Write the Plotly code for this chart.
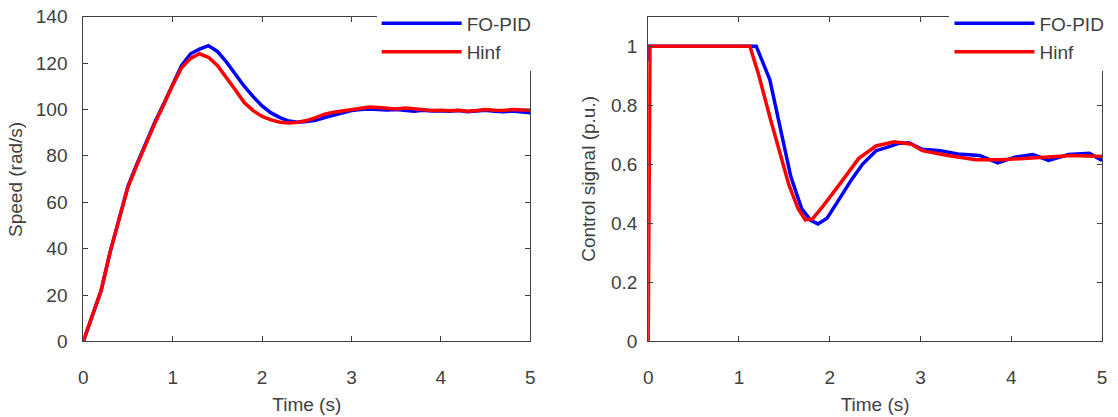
import plotly.graph_objects as go

# ---------------- data: speed (left) ----------------
t_speed = [round(0.1 * i, 1) for i in range(51)]
speed_fopid = [0, 10.5, 22, 38.5, 53, 67, 76.5, 85.5, 94.5, 102.5, 110.5,
               119, 124, 126, 127.5, 125, 120.5, 115, 110, 105.5, 101.5,
               98.5, 96.5, 95, 94.5, 94.8, 95.3, 96.5, 97.5, 98.5, 99.5,
               100, 100.2, 100, 99.8, 100, 99.7, 99.2, 99.6, 99.3, 99.4,
               99.2, 99.5, 99, 99.3, 99.6, 99.2, 99, 99.3, 98.8, 98.6]
speed_hinf = [0, 10.5, 22, 38.5, 53, 66.5, 76, 85, 94, 102, 110.5,
              118, 122, 124, 122.5, 119, 114, 108.5, 103, 99.5, 97,
              95.5, 94.5, 94.2, 94.5, 95.2, 96.5, 98, 98.8, 99.3, 99.8,
              100.5, 101, 100.8, 100.5, 100.2, 100.6, 100.3, 99.8, 99.5, 99.7,
              99.4, 99.6, 99.2, 99.5, 100, 99.7, 99.5, 100, 99.8, 99.6]

# ---------------- data: control signal (right) ----------------
t_ctrl_fopid = [0, 0.0, 0.01, 1.19, 1.34, 1.46, 1.57, 1.69, 1.79, 1.87, 1.97,
                2.08, 2.24, 2.36, 2.51, 2.63, 2.75, 2.87, 3.02, 3.22, 3.41,
                3.65, 3.85, 4.04, 4.24, 4.41, 4.63, 4.86, 5.0]
ctrl_fopid = [0.95, 0.97, 1.0, 1.0, 0.886, 0.722, 0.559, 0.45, 0.41, 0.398, 0.417,
              0.47, 0.548, 0.60, 0.646, 0.657, 0.67, 0.673, 0.651, 0.646, 0.635,
              0.63, 0.605, 0.624, 0.633, 0.613, 0.633, 0.637, 0.613]
t_ctrl_hinf = [0, 0.02, 1.12, 1.22, 1.34, 1.46, 1.55, 1.65, 1.73, 1.81, 1.93,
               2.12, 2.32, 2.51, 2.71, 2.9, 3.02, 3.3, 3.61, 3.88, 4.28,
               4.67, 5.0]
ctrl_hinf = [0, 1.0, 1.0, 0.9, 0.76, 0.63, 0.53, 0.45, 0.412, 0.415, 0.46,
             0.537, 0.62, 0.662, 0.676, 0.668, 0.646, 0.63, 0.615, 0.615, 0.624,
             0.63, 0.626]

series_names = ["FO-PID", "Hinf"]
series_colors = ["#0000ff", "#ff0000"]
ctrl_ticks = [0, 0.2, 0.4, 0.6, 0.8, 1]
ctrl_ticktext = ["0", "0.2", "0.4", "0.6", "0.8", "1"]
y_titles = ["Speed (rad/s)", "Control signal (p.u.)"]

FONT = "Liberation Sans, Arial, sans-serif"
TXT = "#404040"
LINE = "#404040"
FS = 19
W, H = 1118, 417

fig = go.Figure()
fig.add_trace(go.Scatter(x=t_speed, y=speed_fopid, mode="lines", name=series_names[0],
                         line=dict(color=series_colors[0], width=3.5),
                         xaxis="x", yaxis="y", legend="legend", legendgroup="a"))
fig.add_trace(go.Scatter(x=t_speed, y=speed_hinf, mode="lines", name=series_names[1],
                         line=dict(color=series_colors[1], width=3.5),
                         xaxis="x", yaxis="y", legend="legend", legendgroup="b"))
fig.add_trace(go.Scatter(x=t_ctrl_fopid, y=ctrl_fopid, mode="lines", name=series_names[0],
                         line=dict(color=series_colors[0], width=3.5),
                         xaxis="x2", yaxis="y2", legend="legend2", legendgroup="c"))
fig.add_trace(go.Scatter(x=t_ctrl_hinf, y=ctrl_hinf, mode="lines", name=series_names[1],
                         line=dict(color=series_colors[1], width=3.5),
                         xaxis="x2", yaxis="y2", legend="legend2", legendgroup="d"))

ax = dict(showline=True, linecolor=LINE, linewidth=1, mirror="ticks", ticks="inside",
          ticklen=5, tickcolor=LINE, showgrid=False, zeroline=False,
          ticklabeloverflow="allow",
          tickfont=dict(family=FONT, size=FS, color=TXT))
xax = dict(ax, ticklabelstandoff=19)
ydom = [1 - 349 / H, 1 - 7 / H]
ymid = 1 - 178 / H

fig.update_layout(
    width=W, height=H, autosize=False,
    margin=dict(l=0, r=0, t=0, b=0),
    paper_bgcolor="white", plot_bgcolor="white",
    font=dict(family=FONT, size=FS, color=TXT),
    xaxis=dict(xax, domain=[79 / W, 530 / W], range=[0, 5], dtick=1, anchor="y",
               title=dict(text="Time (s)", standoff=10, font=dict(size=FS, color=TXT))),
    yaxis=dict(ax, domain=ydom, range=[0, 140], dtick=20, anchor="x", ticklabelstandoff=11),
    xaxis2=dict(xax, domain=[649 / W, 1107 / W], range=[0, 5], dtick=1, anchor="y2",
                title=dict(text="Time (s)", standoff=10, font=dict(size=FS, color=TXT))),
    yaxis2=dict(ax, domain=ydom, range=[0, 1.1], tickvals=ctrl_ticks, ticktext=ctrl_ticktext,
                anchor="x2", ticklabelstandoff=6),
    legend=dict(x=375 / W, y=1 + 6 / H, xanchor="left", yanchor="top", bgcolor="white",
                borderwidth=0, font=dict(family=FONT, size=FS, color=TXT),
                itemwidth=80, tracegroupgap=1, traceorder="grouped"),
    legend2=dict(x=953 / W, y=1 + 6 / H, xanchor="left", yanchor="top", bgcolor="white",
                 borderwidth=0, font=dict(family=FONT, size=FS, color=TXT),
                 itemwidth=80, tracegroupgap=1, traceorder="grouped"),
    annotations=[
        dict(text=y_titles[0], x=10 / W, y=ymid, xref="paper", yref="paper",
             xanchor="center", yanchor="middle", textangle=-90, showarrow=False,
             font=dict(family=FONT, size=FS, color=TXT)),
        dict(text=y_titles[1], x=588 / W, y=ymid, xref="paper", yref="paper",
             xanchor="center", yanchor="middle", textangle=-90, showarrow=False,
             font=dict(family=FONT, size=FS, color=TXT)),
    ],
)

fig.write_html("out.html")
